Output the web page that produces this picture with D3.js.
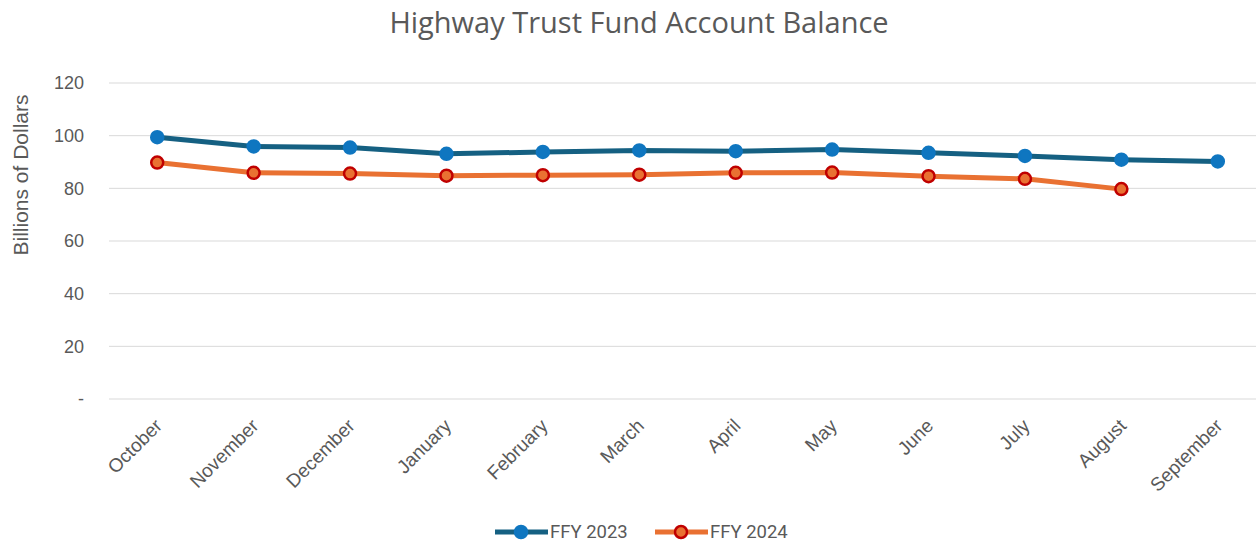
<!DOCTYPE html>
<html>
<head>
<meta charset="utf-8">
<script src="https://cdn.jsdelivr.net/npm/d3@7"></script>
<style>
  body { margin: 0; background: #fff; }
  svg { display: block; }
</style>
</head>
<body>
<div id="chart"></div>
<script>
const months = ["October", "November", "December", "January", "February", "March",
  "April", "May", "June", "July", "August", "September"];
const ffy2023 = [99.4, 95.9, 95.5, 93.1, 93.8, 94.4, 94.1, 94.7, 93.5, 92.3, 90.9, 90.2];
const ffy2024 = [89.8, 85.9, 85.6, 84.8, 85.0, 85.2, 85.9, 86.0, 84.6, 83.6, 79.7];
const yTicks = [0, 20, 40, 60, 80, 100, 120];

const width = 1256, height = 544;
const margin = { top: 83, right: -10, bottom: 145, left: 109 };

const svg = d3.select("#chart").append("svg")
  .attr("width", width)
  .attr("height", height);

const x = d3.scaleBand()
  .domain(months)
  .range([margin.left, width - margin.right])
  .padding(0);

const y = d3.scaleLinear()
  .domain([0, 120])
  .range([height - margin.bottom, margin.top]);

const cx = d => x(d) + x.bandwidth() / 2;

// gridlines
svg.append("g")
  .selectAll("line")
  .data(yTicks)
  .enter().append("line")
  .attr("x1", margin.left)
  .attr("x2", width)
  .attr("y1", d => y(d))
  .attr("y2", d => y(d))
  .attr("stroke", "#d9d9d9")
  .attr("stroke-width", 1);

// y tick labels
svg.append("g")
  .selectAll("text")
  .data(yTicks)
  .enter().append("text")
  .attr("x", 84)
  .attr("y", d => y(d))
  .attr("dy", "0.35em")
  .attr("text-anchor", "end")
  .attr("font-family", "Liberation Sans, Arial, sans-serif")
  .attr("font-size", "18px")
  .attr("fill", "#595959")
  .text(d => d === 0 ? "-" : d);

// x tick labels
svg.append("g")
  .selectAll("text")
  .data(months)
  .enter().append("text")
  .attr("transform", d => `translate(${cx(d) + 6},${y(0) + 28}) rotate(-45)`)
  .attr("text-anchor", "end")
  .attr("font-family", "Liberation Sans, Arial, sans-serif")
  .attr("font-size", "19px")
  .attr("fill", "#595959")
  .text(d => d);

// title
svg.append("text")
  .attr("x", 639)
  .attr("y", 33)
  .attr("text-anchor", "middle")
  .attr("font-family", "Open Sans, sans-serif")
  .attr("font-size", "29px")
  .attr("fill", "#595959")
  .text("Highway Trust Fund Account Balance");

// y axis title
svg.append("text")
  .attr("transform", `translate(28,175) rotate(-90)`)
  .attr("text-anchor", "middle")
  .attr("font-family", "Liberation Sans, Arial, sans-serif")
  .attr("font-size", "21px")
  .attr("fill", "#595959")
  .text("Billions of Dollars");

const series = [
  { name: "FFY 2023", values: ffy2023, line: "#156082", fill: "#0f76c0", stroke: "#0f76c0" },
  { name: "FFY 2024", values: ffy2024, line: "#e97132", fill: "#e97132", stroke: "#c00000" }
];

const line = d3.line()
  .x((d, i) => cx(months[i]))
  .y(d => y(d));

series.forEach(s => {
  svg.append("path")
    .datum(s.values)
    .attr("fill", "none")
    .attr("stroke", s.line)
    .attr("stroke-width", 5)
    .attr("stroke-linejoin", "round")
    .attr("d", line);

  svg.append("g")
    .selectAll("circle")
    .data(s.values)
    .enter().append("circle")
    .attr("cx", (d, i) => cx(months[i]))
    .attr("cy", d => y(d))
    .attr("r", 6)
    .attr("fill", s.fill)
    .attr("stroke", s.stroke)
    .attr("stroke-width", 2.5);
});

// legend
const legend = svg.append("g");
const legendX = [495, 655];
series.forEach((s, i) => {
  const g = legend.append("g").attr("transform", `translate(${legendX[i]},532)`);
  g.append("line")
    .attr("x1", 0).attr("x2", 53)
    .attr("stroke", s.line)
    .attr("stroke-width", 5);
  g.append("circle")
    .attr("cx", 26).attr("r", 6)
    .attr("fill", s.fill)
    .attr("stroke", s.stroke)
    .attr("stroke-width", 2.5);
  g.append("text")
    .attr("x", 55)
    .attr("dy", "0.35em")
    .attr("font-family", "Roboto, Liberation Sans, sans-serif")
    .attr("font-size", "18.5px")
    .attr("fill", "#595959")
    .text(s.name);
});
</script>
</body>
</html>
